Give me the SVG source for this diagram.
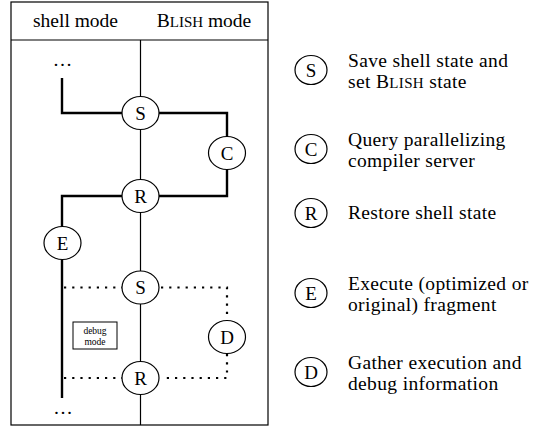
<svg xmlns="http://www.w3.org/2000/svg" width="538" height="427" viewBox="0 0 538 427" font-family="'Liberation Serif', 'DejaVu Serif', serif">
<style>
text{font-family:'Liberation Serif','DejaVu Serif',serif;fill:#000}
.hd{font-size:19.5px;text-anchor:middle}
.lt{font-size:19.5px;letter-spacing:0.35px}
.nl{font-size:19px;text-anchor:middle}
.node{fill:#fff;stroke:#000;stroke-width:1.2}
.thick{fill:none;stroke:#000;stroke-width:2.4}
.thin{fill:none;stroke:#000;stroke-width:1.2}
.dot{fill:none;stroke:#000;stroke-width:2.2;stroke-dasharray:2.2 6}
.sm{font-size:9.5px;text-anchor:middle}
</style>
<rect width="538" height="427" fill="#fff"/>
<g id="frame">
<rect x="11" y="2" width="257" height="423" fill="none" stroke="#000" stroke-width="1.2"/>
<line x1="11" y1="40" x2="268" y2="40" stroke="#000" stroke-width="1.2"/>
<text class="hd" x="75.5" y="27">shell mode</text>
<text class="hd" x="204" y="27">B<tspan font-size="15">LISH</tspan> mode</text>
<text class="hd" x="62.5" y="66" font-size="18">…</text>
<text class="hd" x="63" y="414" font-size="18">…</text>
</g>
<g id="connectors">
<line class="thin" x1="140.5" y1="40" x2="140.5" y2="425"/>
<path class="thick" d="M62 78V113H122"/>
<path class="thick" d="M159 113H227V136.5"/>
<path class="thick" d="M227 169.5V196H159"/>
<path class="thick" d="M122 196H62V226.5"/>
<path class="thick" d="M62 259.5V398"/>
<path class="dot" d="M64 287.5H122"/>
<path class="dot" d="M161 287.5H227V320"/>
<path class="dot" d="M227 354V378H161"/>
<path class="dot" d="M64 378H122"/>
</g>
<g id="node-S1"><ellipse class="node" cx="140.5" cy="113" rx="18.5" ry="16.5"/><text class="nl" x="140.5" y="119.5">S</text></g>
<g id="node-C"><ellipse class="node" cx="227" cy="153" rx="18.5" ry="16.5"/><text class="nl" x="227" y="159.5">C</text></g>
<g id="node-R1"><ellipse class="node" cx="140.5" cy="196" rx="18.5" ry="16.5"/><text class="nl" x="140.5" y="202.5">R</text></g>
<g id="node-E"><ellipse class="node" cx="62.5" cy="243" rx="18.5" ry="16.5"/><text class="nl" x="62.5" y="249.5">E</text></g>
<g id="node-S2"><ellipse class="node" cx="140.5" cy="287.5" rx="18.5" ry="16.5"/><text class="nl" x="140.5" y="294">S</text></g>
<g id="node-D"><ellipse class="node" cx="227" cy="337" rx="18.5" ry="16.5"/><text class="nl" x="227" y="343.5">D</text></g>
<g id="node-R2"><ellipse class="node" cx="140.5" cy="378" rx="18.5" ry="16.5"/><text class="nl" x="140.5" y="384.5">R</text></g>
<g id="debug-mode">
<rect x="73" y="322" width="44" height="27" fill="#fff" stroke="#000" stroke-width="1"/>
<text class="sm" x="95" y="333.5">debug</text>
<text class="sm" x="95" y="344.5">mode</text>
</g>
<g id="legend-S"><ellipse class="node" cx="311" cy="70" rx="16" ry="14.5"/><text class="nl" x="311" y="76.5">S</text>
<text class="lt" x="348" y="67">Save shell state and</text><text class="lt" x="348" y="88">set B<tspan font-size="15">LISH</tspan> state</text></g>
<g id="legend-C"><ellipse class="node" cx="311" cy="149" rx="16" ry="14.5"/><text class="nl" x="311" y="155.5">C</text>
<text class="lt" x="348" y="146">Query parallelizing</text><text class="lt" x="348" y="167">compiler server</text></g>
<g id="legend-R"><ellipse class="node" cx="311" cy="213" rx="16" ry="14.5"/><text class="nl" x="311" y="219.5">R</text>
<text class="lt" x="348" y="219">Restore shell state</text></g>
<g id="legend-E"><ellipse class="node" cx="311" cy="293" rx="16" ry="14.5"/><text class="nl" x="311" y="299.5">E</text>
<text class="lt" x="348" y="290">Execute (optimized or</text><text class="lt" x="348" y="311">original) fragment</text></g>
<g id="legend-D"><ellipse class="node" cx="311" cy="372" rx="16" ry="14.5"/><text class="nl" x="311" y="378.5">D</text>
<text class="lt" x="348" y="369">Gather execution and</text><text class="lt" x="348" y="390">debug information</text></g>
</svg>
